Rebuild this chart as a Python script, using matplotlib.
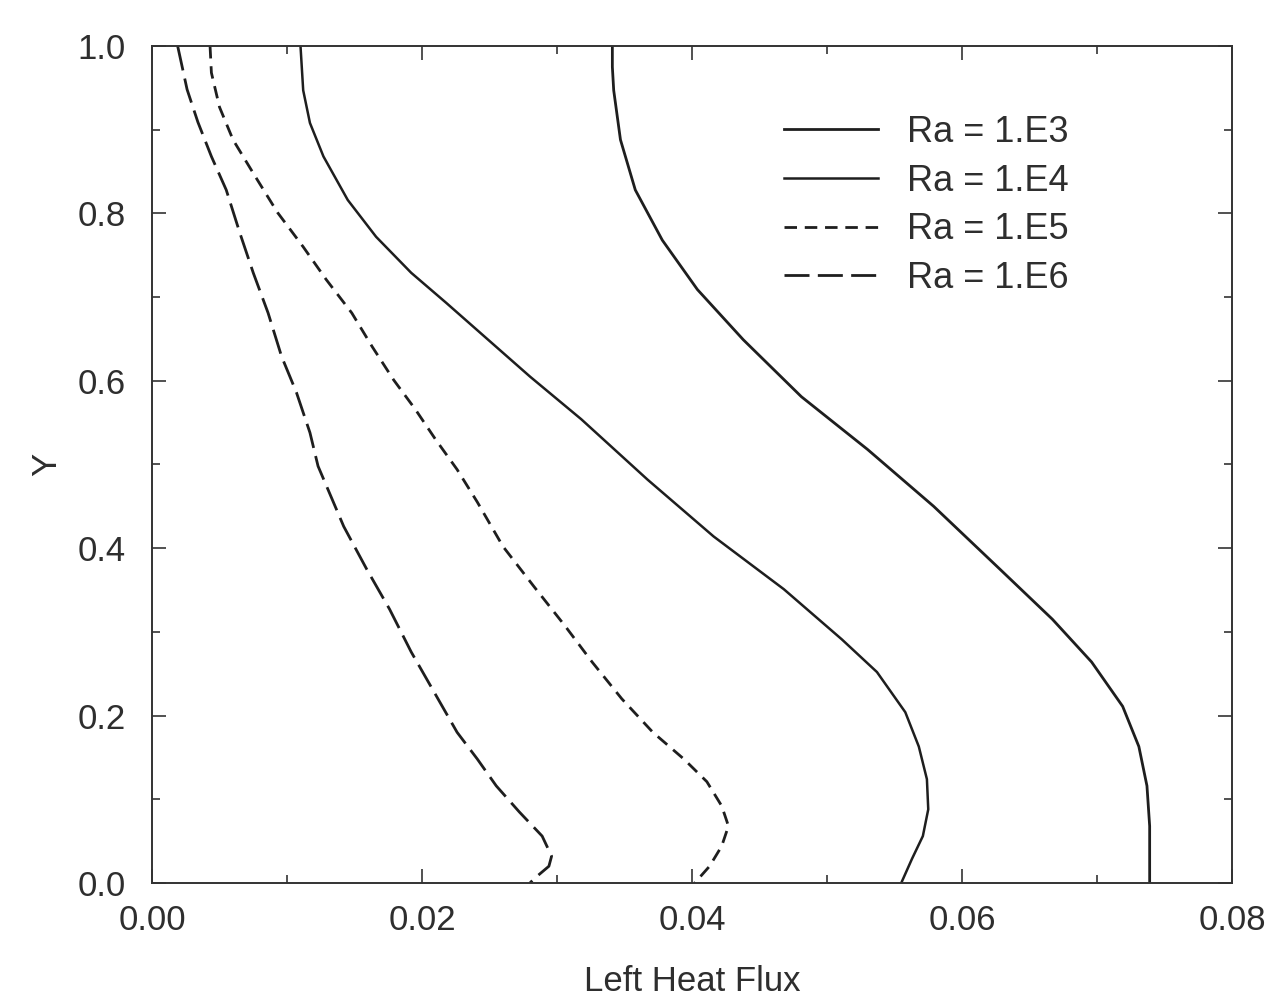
import matplotlib
matplotlib.use("Agg")
import matplotlib.pyplot as plt
from matplotlib.ticker import MultipleLocator

plt.rcParams['font.family'] = ['Liberation Sans', 'DejaVu Sans']

# Values (heat flux, Y)
flux_e3 = [0.0341, 0.0341, 0.0342, 0.0347, 0.0358, 0.0378, 0.0404, 0.0438, 0.0481,
           0.0530, 0.0579, 0.0628, 0.0667, 0.0696, 0.0719, 0.0731, 0.0737, 0.0739,
           0.0739]
y_e3 = [1.0, 0.975, 0.947, 0.888, 0.828, 0.768, 0.709, 0.649, 0.581,
        0.518, 0.450, 0.375, 0.315, 0.264, 0.211, 0.163, 0.116, 0.068,
        0.0]

flux_e4 = [0.0110, 0.0112, 0.0117, 0.0127, 0.0145, 0.0166, 0.0192, 0.0218, 0.0249,
           0.0280, 0.0318, 0.0367, 0.0416, 0.0468, 0.0511, 0.0537, 0.0558, 0.0568,
           0.0574, 0.0575, 0.0571, 0.0563, 0.0555]
y_e4 = [1.0, 0.947, 0.908, 0.868, 0.816, 0.772, 0.729, 0.693, 0.649,
        0.605, 0.554, 0.482, 0.414, 0.351, 0.291, 0.252, 0.204, 0.163,
        0.124, 0.088, 0.056, 0.029, 0.0]

flux_e5 = [0.0043, 0.0044, 0.0050, 0.0060, 0.0075, 0.0093, 0.0112, 0.0129, 0.0148,
           0.0163, 0.0179, 0.0195, 0.0210, 0.0226, 0.0241, 0.0260, 0.0283, 0.0306,
           0.0326, 0.0348, 0.0371, 0.0394, 0.0411, 0.0422, 0.0427, 0.0422, 0.0413,
           0.0402]
y_e5 = [1.0, 0.968, 0.927, 0.888, 0.848, 0.801, 0.760, 0.721, 0.681,
        0.641, 0.601, 0.566, 0.530, 0.494, 0.455, 0.402, 0.354, 0.307,
        0.264, 0.220, 0.180, 0.148, 0.121, 0.092, 0.068, 0.044, 0.020,
        0.0]

flux_e6 = [0.0019, 0.0026, 0.0034, 0.0044, 0.0055, 0.0065, 0.0075, 0.0086, 0.0096,
           0.0107, 0.0117, 0.0123, 0.0142, 0.0159, 0.0176, 0.0192, 0.0209, 0.0226,
           0.0241, 0.0255, 0.0272, 0.0289, 0.0296, 0.0294, 0.0283, 0.0280]
y_e6 = [1.0, 0.948, 0.909, 0.868, 0.828, 0.777, 0.729, 0.681, 0.629,
        0.586, 0.538, 0.498, 0.426, 0.375, 0.327, 0.276, 0.228, 0.180,
        0.148, 0.116, 0.085, 0.056, 0.032, 0.020, 0.005, 0.0]

labels = ['Ra = 1.E3', 'Ra = 1.E4', 'Ra = 1.E5', 'Ra = 1.E6']

line_color = '#1e1e1e'
text_color = '#2e2e2e'

fig = plt.figure(figsize=(12.73, 10.06), dpi=100)
ax = fig.add_axes([0.1194, 0.1223, 0.8484, 0.8320])

ax.plot(flux_e3, y_e3, color=line_color, lw=2.0, label=labels[0])
ax.plot(flux_e4, y_e4, color=line_color, lw=1.8, label=labels[1])
ax.plot(flux_e5, y_e5, color=line_color, lw=2.0, dashes=(4.5, 2.8), label=labels[2])
ax.plot(flux_e6, y_e6, color=line_color, lw=2.0, dashes=(9, 3), label=labels[3])

ax.set_xlim(0, 0.08)
ax.set_ylim(0, 1.0)
ax.xaxis.set_major_locator(MultipleLocator(0.02))
ax.xaxis.set_minor_locator(MultipleLocator(0.01))
ax.yaxis.set_major_locator(MultipleLocator(0.2))
ax.yaxis.set_minor_locator(MultipleLocator(0.1))
ax.xaxis.set_major_formatter(plt.FormatStrFormatter('%.2f'))
ax.yaxis.set_major_formatter(plt.FormatStrFormatter('%.1f'))

ax.tick_params(which='both', direction='in', top=True, right=True,
               colors='#333333', labelcolor=text_color, width=1.2)
ax.tick_params(which='major', length=10, labelsize=25)
ax.tick_params(which='minor', length=6)
ax.tick_params(axis='x', which='major', pad=15)
ax.tick_params(axis='y', which='major', pad=19)
for sp in ax.spines.values():
    sp.set_color('#333333')
    sp.set_linewidth(1.4)

ax.set_xlabel('Left Heat Flux', fontsize=25, color=text_color, labelpad=20)
ax.set_ylabel('Y', fontsize=25, color=text_color, labelpad=10)

leg = ax.legend(loc='upper right', bbox_to_anchor=(0.862, 0.935), frameon=False,
                fontsize=26, handlelength=2.6, handletextpad=0.8,
                labelspacing=0.38, borderaxespad=0)
for t in leg.get_texts():
    t.set_color(text_color)

fig.savefig('out.png', dpi=100)
